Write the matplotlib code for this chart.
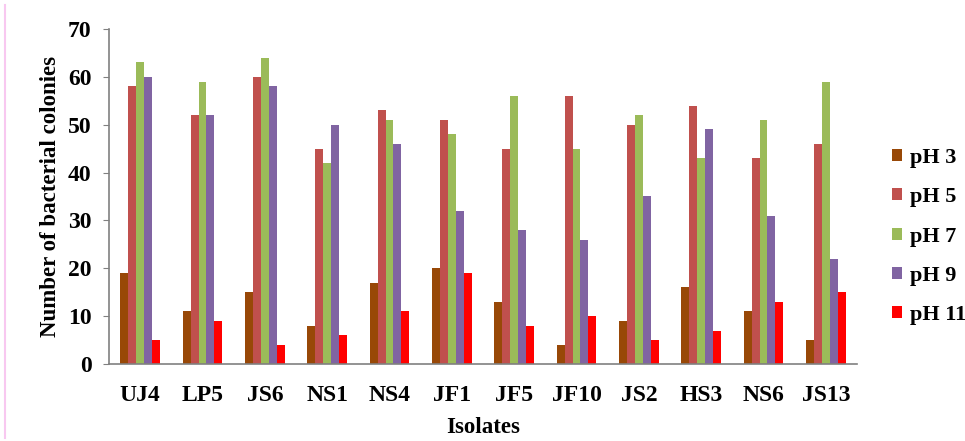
import numpy as np
import matplotlib
matplotlib.use("Agg")
import matplotlib.pyplot as plt

plt.rcParams['font.family'] = ['Liberation Serif', 'DejaVu Serif']
plt.rcParams['font.weight'] = 'bold'

# donnees
isolats = ["UJ4", "LP5", "JS6", "NS1", "NS4", "JF1", "JF5", "JF10", "JS2", "HS3", "NS6", "JS13"]
ph3 = [19, 11, 15, 8, 17, 20, 13, 4, 9, 16, 11, 5]
ph5 = [58, 52, 60, 45, 53, 51, 45, 56, 50, 54, 43, 46]
ph7 = [63, 59, 64, 42, 51, 48, 56, 45, 52, 43, 51, 59]
ph9 = [60, 52, 58, 50, 46, 32, 28, 26, 35, 49, 31, 22]
ph11 = [5, 9, 4, 6, 11, 19, 8, 10, 5, 7, 13, 15]
series = ["pH 3", "pH 5", "pH 7", "pH 9", "pH 11"]
couleurs = ["#984807", "#C0504D", "#9BBB59", "#8064A2", "#FF0000"]

fig = plt.figure(figsize=(9.65, 4.41), dpi=100)
ax = fig.add_axes([109/965, 1-364/441, (857-109)/965, (364-29)/441])

x = np.arange(len(isolats))
w = 0.128
for k, (vals, lab, c) in enumerate(zip([ph3, ph5, ph7, ph9, ph11], series, couleurs)):
    ax.bar(x + (k - 2) * w, vals, w, color=c, label=lab)

ax.set_xlim(-0.5, len(isolats) - 0.5)
ax.set_ylim(0, 70)
ax.set_yticks(range(0, 71, 10))
ax.set_xticks(x)
ax.set_xticklabels(isolats, fontsize=17, fontweight='bold')
ax.tick_params(axis='y', labelsize=17, length=4.5, color='#808080', direction='out', pad=8)
ax.tick_params(axis='x', length=0, pad=15)
for s in ['top', 'right']:
    ax.spines[s].set_visible(False)
for s in ['left', 'bottom']:
    ax.spines[s].set_color('#808080')
    ax.spines[s].set_linewidth(1.2)

ax.set_ylabel("Number of bacterial colonies", fontsize=16.5, fontweight='bold', labelpad=5)
ax.set_xlabel("Isolates", fontsize=16.5, fontweight='bold', labelpad=8)

ax.legend(loc='center left', bbox_to_anchor=(1.035, 0.38), frameon=False,
          fontsize=16, handlelength=0.45, handleheight=0.45, handletextpad=0.35,
          labelspacing=0.87, borderaxespad=0)

# trait rose a gauche
fig.add_artist(plt.Line2D([5/965, 5/965], [1-438/441, 1-5/441], color='#F8C8F0', lw=1.5))

plt.savefig("out.png", dpi=100)
